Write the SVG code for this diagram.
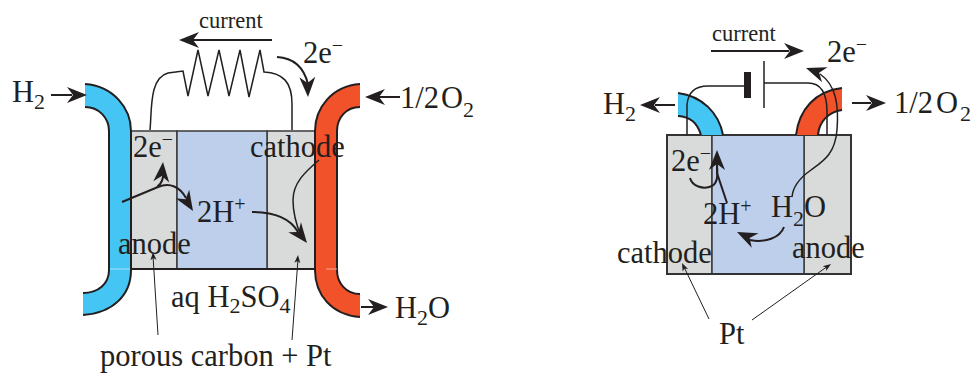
<svg xmlns="http://www.w3.org/2000/svg" width="972" height="373" viewBox="0 0 972 373">
<style>
text{font-family:"Liberation Serif","Times New Roman",serif;fill:#231f20;font-size:30.5px}
.s{font-size:22.5px}
.sm{font-size:22px}
.sup{font-size:20px}
.w{fill:none;stroke:#231f20;stroke-width:1.5}
.t{fill:none;stroke:#231f20;stroke-width:1}
.a{fill:none;stroke:#231f20;stroke-width:2}
.h{fill:#231f20;stroke:none}
.g{fill:#d9dbda;stroke:#3a3a3a;stroke-width:1.5}
.b{fill:#bdcfea;stroke:#3a3a3a;stroke-width:1.5}
.blue{fill:#45c5f4;stroke:none}
.red{fill:#f2522a;stroke:none}
.e{fill:none;stroke:#231f20;stroke-width:2}
</style>
<defs>
<path id="ah" class="h" d="M0 0L-20 -8L-14 0L-20 8Z"/>
<path id="as" class="h" d="M0 0L-8 -3L-6 0L-8 3Z"/>
</defs>
<g id="left-cell">
<rect class="g" x="131" y="131" width="46" height="138"/>
<rect class="g" x="267" y="131" width="49" height="138"/>
<rect class="b" x="177" y="131" width="90" height="138"/>
<line x1="131" y1="269" x2="316" y2="269" stroke="#231f20" stroke-width="2"/>
</g>
<g id="left-blue-tube">
<path class="blue" d="M85 84C113 86 131 108 131 131V270C131 295 113 313 83 315V293C98 293 109 284 109 270V131C109 118 99 107 85 107Z"/>
<path class="e" d="M85 84C113 86 131 108 131 131V270C131 295 113 313 83 315M83 293C98 293 109 284 109 270V131C109 118 99 107 85 107"/>
<line x1="110" y1="269" x2="130" y2="269" stroke="#a8e2f8" stroke-width="1"/>
</g>
<g id="left-red-tube">
<path class="red" d="M360 84C332 86 315 108 315 131V270C315 295 332 315 360 317V294C346 294 337 283 337 270V131C337 118 346 107 360 107Z"/>
<path class="e" d="M360 84C332 86 315 108 315 131V270C315 295 332 315 360 317M360 294C346 294 337 283 337 270V131C337 118 346 107 360 107"/>
<line x1="326" y1="269" x2="337" y2="269" stroke="#f7a68e" stroke-width="1"/>
</g>
<g id="connectors">
<path class="w" d="M150 130C152 110 149 78 168 73L183 71L188 96L198 50L208 96L219 50L229 96L240 50L249 97L260 50L264 72C283 73 292 82 292 104V130"/>
<path class="a" d="M190 40H272"/><use href="#ah" transform="translate(179 40) rotate(180)"/>
<path class="a" d="M277 57C295 58 304 68 308 84"/><use href="#ah" transform="translate(308 97) rotate(88)"/>
<path class="a" d="M51 95H72"/><use href="#ah" transform="translate(87 95)"/>
<path class="a" d="M400 97H378"/><use href="#ah" transform="translate(365 97) rotate(180)"/>
<path class="a" d="M361 307H378"/><use href="#ah" transform="translate(388 307)"/>
<path class="a" d="M122 202L158 187C170 182 180 187 186 198"/><use href="#ah" transform="translate(193 211) rotate(58)"/>
<path class="a" d="M157 187C161 184 164 180 163 172"/><use href="#ah" transform="translate(163 162) rotate(-85)"/>
<path class="a" d="M252 212C275 212 290 218 298 232"/><use href="#ah" transform="translate(307 243) rotate(52)"/>
<path class="w" d="M319 160C305 172 293 183 293 200C293 213 296 224 301 236"/>
<path class="t" d="M158 335L153 256"/><use href="#as" transform="translate(153 252) rotate(-93)"/>
<path class="t" d="M292 340L298 259"/><use href="#as" transform="translate(298 255) rotate(-85)"/>
</g>
<g id="right-cell">
<rect class="g" x="667" y="135" width="45" height="139"/>
<rect class="g" x="804" y="135" width="47" height="139"/>
<rect class="b" x="712" y="135" width="92" height="139"/>
<rect x="667" y="135" width="184" height="139" fill="none" stroke="#333" stroke-width="2"/>
</g>
<g id="right-blue-tube">
<path class="blue" d="M678 93C702 96 719 113 723 135H701C697 122 690 117 678 116Z"/>
<path class="e" d="M678 93C702 96 719 113 723 135M678 116C690 117 697 122 701 135"/>
</g>
<g id="right-red-tube">
<path class="red" d="M842 88C815 91 799 110 796 135H818C819 122 828 112 842 110Z"/>
<path class="e" d="M842 88C815 91 799 110 796 135M842 110C828 112 819 122 818 135"/>
</g>
<g id="right-connectors">
<path class="w" d="M687 135V105C688 92 696 86 708 86H744"/>
<rect class="h" x="744" y="72" width="7" height="26"/>
<path class="w" d="M764 61V108"/>
<path class="w" d="M764 83H808C822 83 827 95 827 112V135"/>
<path class="a" d="M711 51H789"/><use href="#ah" transform="translate(804 51)"/>
<path class="a" d="M675 105H655"/><use href="#ah" transform="translate(640 105) rotate(180)"/>
<path class="a" d="M852 103H871"/><use href="#ah" transform="translate(886 103)"/>
<path class="w" d="M792 197C793 185 801 177 811 170C822 162 835 155 837 130C839 105 836 85 820 74"/><use href="#ah" transform="translate(806 68) rotate(200)"/>
<path class="a" d="M727 203L717 173L717 163"/><use href="#ah" transform="translate(717 150) rotate(-90)"/>
<path class="a" d="M690 178C692 186 703 190 712 186C717 183 718 178 717 165"/>
<path class="a" d="M784 227C780 238 765 243 750 240"/><use href="#ah" transform="translate(737 232) rotate(205)"/>
<path class="t" d="M709 319L684 267"/><use href="#as" transform="translate(682 263) rotate(-115)"/>
<path class="t" d="M752 320L828 266"/><use href="#as" transform="translate(831 264) rotate(-35)"/>
</g>
<g id="labels">
<text class="s" x="199" y="28">current</text>
<text x="303" y="63">2e<tspan class="sup" dy="-11">−</tspan></text>
<text x="12" y="102">H<tspan class="sm" dy="6.5">2</tspan></text>
<text x="400" y="108">1/2<tspan dx="2">O</tspan><tspan class="sm" dy="9">2</tspan></text>
<text x="133" y="157">2e<tspan class="sup" dy="-11">−</tspan></text>
<text x="250" y="157">cathode</text>
<text x="197" y="222">2H<tspan class="sup" dy="-11">+</tspan></text>
<text x="118" y="254">anode</text>
<text x="171" y="307">aq H<tspan class="sm" dy="6">2</tspan><tspan dy="-6">SO</tspan><tspan class="sm" dy="6">4</tspan></text>
<text x="395" y="318">H<tspan class="sm" dy="7">2</tspan><tspan dy="-7">O</tspan></text>
<text x="100" y="366">porous carbon + Pt</text>
<text class="s" x="712" y="41">current</text>
<text x="827" y="62">2e<tspan class="sup" dy="-11">−</tspan></text>
<text x="603" y="114">H<tspan class="sm" dy="7">2</tspan></text>
<text x="894" y="113">1/2<tspan dx="3">O</tspan><tspan class="sm" dx="2" dy="8">2</tspan></text>
<text x="671" y="171">2e<tspan class="sup" dy="-11">−</tspan></text>
<text x="703" y="224">2H<tspan class="sup" dy="-11">+</tspan></text>
<text x="771" y="217">H<tspan class="sm" dy="9">2</tspan><tspan dy="-9">O</tspan></text>
<text x="617" y="263">cathode</text>
<text x="792" y="258">anode</text>
<text x="719" y="344">Pt</text>
</g>
</svg>
